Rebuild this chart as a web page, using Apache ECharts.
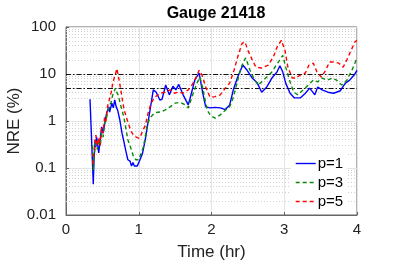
<!DOCTYPE html>
<html><head><meta charset="utf-8">
<script src="https://cdn.jsdelivr.net/npm/echarts@6/dist/echarts.min.js"></script>
<style>html,body{margin:0;padding:0;background:#fff}#c{width:395px;height:263px}</style>
</head><body><div id="c"></div>
<script>
var titleText = 'Gauge 21418';
var xName = 'Time (hr)';
var yName = 'NRE (%)';
var seriesNames = ['p=1', 'p=3', 'p=5'];
var thresholds = [10, 5];
var minorGrid = [0.02,0.03,0.04,0.05,0.06,0.07,0.08,0.09,0.2,0.3,0.4,0.5,0.6,0.7,0.8,0.9,2,3,4,5,6,7,8,9,20,30,40,50,60,70,80,90];

var tP1 = [0.33,0.355,0.375,0.385,0.40,0.41,0.42,0.45,0.47,0.49,0.51,0.54,0.56,0.59,0.60,0.63,0.65,0.67,0.69,0.71,0.74,0.77,0.80,0.82,0.85,0.88,0.90,0.92,0.94,0.96,0.98,1.00,1.02,1.05,1.09,1.12,1.155,1.20,1.24,1.29,1.32,1.37,1.42,1.47,1.51,1.55,1.61,1.68,1.70,1.77,1.83,1.88,1.92,1.98,2.05,2.12,2.19,2.25,2.30,2.36,2.43,2.49,2.56,2.63,2.69,2.76,2.83,2.90,2.94,2.98,3.02,3.08,3.14,3.22,3.29,3.35,3.42,3.46,3.52,3.60,3.68,3.77,3.84,3.90,3.96,4.00];
var vP1 = [2.9,0.3,0.045,0.15,0.4,0.28,0.46,0.21,0.4,0.75,0.55,1.05,1.5,2.0,1.55,2.4,1.9,2.8,2.0,1.7,1.05,0.55,0.34,0.24,0.15,0.14,0.11,0.13,0.11,0.12,0.11,0.13,0.12,0.2,0.4,0.8,1.7,4.6,4.1,2.8,2.9,5.8,3.6,5.5,4.6,6.0,3.6,2.2,2.8,7.4,10.5,3.9,2.0,1.9,1.95,1.9,1.75,2.2,4.6,8.6,15.5,12,8.2,6.4,4.1,5.3,8.2,11,15,11,6.4,3.9,3.1,3.1,3.9,5.0,3.6,5.3,4.6,4.1,3.9,4.4,6.4,7.4,9.5,12];

var tP3 = [0.365,0.375,0.39,0.41,0.43,0.45,0.47,0.49,0.51,0.53,0.55,0.57,0.60,0.62,0.64,0.66,0.68,0.70,0.72,0.75,0.78,0.80,0.83,0.85,0.88,0.90,0.93,0.96,1.00,1.03,1.06,1.09,1.11,1.15,1.22,1.29,1.36,1.43,1.50,1.57,1.64,1.68,1.73,1.80,1.84,1.88,1.94,1.99,2.05,2.12,2.19,2.25,2.30,2.35,2.39,2.43,2.47,2.53,2.58,2.64,2.69,2.76,2.83,2.89,2.94,2.98,3.02,3.08,3.13,3.19,3.26,3.33,3.40,3.46,3.52,3.59,3.66,3.72,3.79,3.86,3.93,3.99];
var vP3 = [0.3,0.09,0.2,0.4,0.25,0.35,0.3,0.55,0.45,0.9,1.0,1.5,2.2,2.5,3.5,3.2,5.0,4.0,3.5,2.2,1.5,1.1,0.6,0.4,0.3,0.24,0.17,0.15,0.15,0.2,0.27,0.45,0.75,1.15,1.5,1.55,1.7,2.0,2.4,2.5,2.2,1.9,3.2,6.4,8.6,5.0,1.7,1.3,1.15,1.35,1.7,2.0,3.2,6.4,11,17,22,12,8.2,5.8,6.8,8.6,11,15.5,20,25,14,6.8,4.1,3.6,4.6,5.8,7.4,6.8,8.2,7.4,8.2,7.4,5.8,7.4,12,20];

var tP5 = [0.37,0.39,0.41,0.43,0.45,0.47,0.49,0.51,0.53,0.55,0.57,0.60,0.62,0.64,0.66,0.68,0.70,0.72,0.74,0.76,0.78,0.80,0.83,0.85,0.88,0.90,0.93,0.96,1.00,1.03,1.06,1.09,1.13,1.17,1.22,1.29,1.36,1.43,1.49,1.54,1.61,1.68,1.73,1.79,1.83,1.87,1.92,1.98,2.05,2.12,2.19,2.25,2.31,2.36,2.42,2.46,2.50,2.56,2.61,2.69,2.78,2.85,2.90,2.96,3.01,3.05,3.11,3.16,3.22,3.29,3.34,3.40,3.45,3.51,3.57,3.62,3.68,3.75,3.81,3.86,3.92,3.97,4.00];
var vP5 = [0.12,0.25,0.5,0.3,0.45,0.3,0.7,0.55,1.2,1.0,2.0,3.0,4.0,6.0,8.0,10,13,9,6,4,2.5,1.7,1.2,0.95,0.7,0.58,0.5,0.46,0.43,0.5,0.65,0.8,1.5,2.4,3.2,3.9,4.1,4.6,3.9,4.1,3.9,4.6,5.8,8.6,12,9.5,5.3,3.2,3.3,3.6,5.0,6.4,12,23,45,48,32,20,14,13.4,15.5,23,37,52,32,14,8.2,8.2,9.5,10.5,15.5,17,11,8.6,12,18,18,17,14,20,32,48,52];

function pairs(t, v){ return t.map(function(x,i){ return [x, v[i]]; }); }

var font = 'Liberation Sans, Arial, Helvetica, sans-serif';
var chart = echarts.init(document.getElementById('c'), null, {renderer:'canvas'});
chart.setOption({
  animation: false,
  backgroundColor: '#fff',
  textStyle: {fontFamily: font},
  title: {text: titleText, left: 211, textAlign: 'center', top: 1,
    textStyle: {fontSize: 16, fontWeight: 'bold', color: '#000', fontFamily: font}},
  grid: {left: 66, right: 38, top: 27, bottom: 48, show: true, borderColor: '#666', borderWidth: 1,
    backgroundColor: 'transparent', containLabel: false, outerBoundsMode: 'none'},
  legend: {
    data: seriesNames, orient: 'vertical', left: 291, top: 153,
    itemWidth: 20, itemHeight: 12, itemGap: 4, backgroundColor: '#fff',
    itemStyle: {opacity: 0},
    lineStyle: {type: 'inherit', width: 1.4},
    padding: [3,4,3,4], textStyle: {fontSize: 15, color: '#000', fontFamily: font, padding: [0,0,0,-3]}
  },
  xAxis: {
    type: 'value', min: 0, max: 4, interval: 1,
    name: xName, nameLocation: 'middle', nameGap: 29, nameMoveOverlap: false,
    nameTextStyle: {fontSize: 17, color: '#222', fontFamily: font},
    axisLine: {show: true, lineStyle: {color: '#666'}},
    axisTick: {show: true, inside: true, length: 3, lineStyle: {color: '#666'}},
    axisLabel: {fontSize: 15, color: '#222', margin: 7, fontFamily: font},
    splitLine: {show: true, lineStyle: {color: '#e4e4e4', width: 1}}
  },
  yAxis: {
    type: 'log', min: 0.01, max: 100, logBase: 10,
    name: yName, nameLocation: 'middle', nameGap: 43, nameMoveOverlap: false,
    nameTextStyle: {fontSize: 17, color: '#222', fontFamily: font},
    axisLine: {show: true, lineStyle: {color: '#666'}},
    axisTick: {show: true, inside: true, length: 3, lineStyle: {color: '#666'}},
    axisLabel: {fontSize: 15, color: '#222', margin: 10, fontFamily: font,
      formatter: function(v){ return String(+v.toPrecision(3)); }},
    splitLine: {show: true, lineStyle: {color: '#e4e4e4', width: 1}}
  },
  series: [
    {name: seriesNames[0], type: 'line', data: pairs(tP1, vP1), symbol: 'none', smooth: false,
      lineStyle: {color: '#0000ff', width: 1.4}, itemStyle: {color: '#0000ff'},
      markLine: {silent: true, symbol: 'none', z: 1, label: {show: false},
        lineStyle: {color: '#d0d0d0', type: [1,2], width: 1},
        data: minorGrid.map(function(v){ return {yAxis: v}; })}},
    {name: seriesNames[1], type: 'line', data: pairs(tP3, vP3), symbol: 'none',
      lineStyle: {color: '#0a8a0a', width: 1.4, type: [4,3]}, itemStyle: {color: '#0a8a0a'},
      markLine: {silent: true, symbol: 'none', z: 1, label: {show: false},
        lineStyle: {color: '#111', type: [5,2,1.5,2], width: 1.2},
        data: thresholds.map(function(v){ return {yAxis: v}; })}},
    {name: seriesNames[2], type: 'line', data: pairs(tP5, vP5), symbol: 'none',
      lineStyle: {color: '#ff0000', width: 1.4, type: [4,3]}, itemStyle: {color: '#ff0000'}}
  ]
});
</script></body></html>
